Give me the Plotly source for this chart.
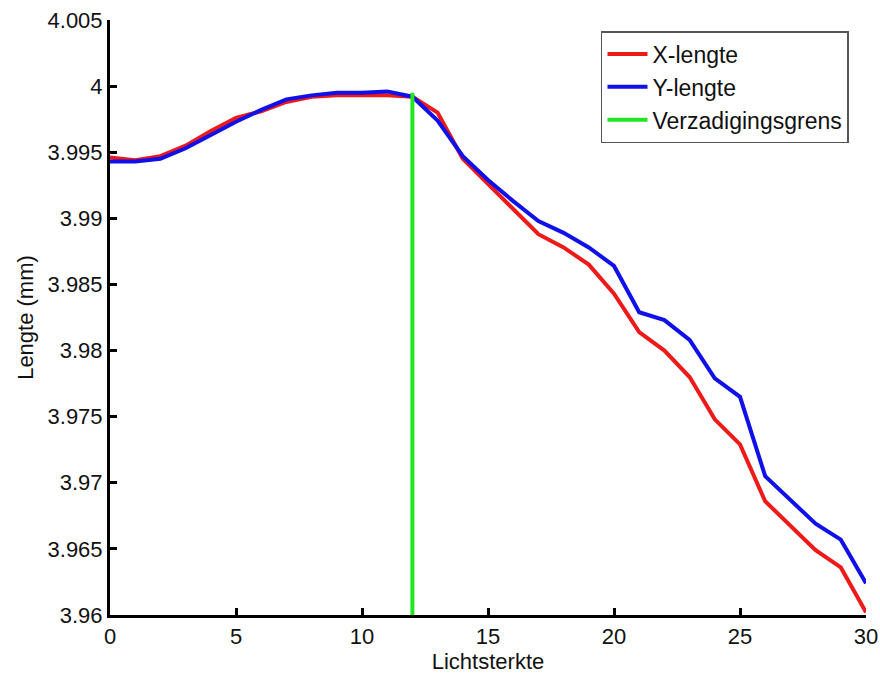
import plotly.graph_objects as go

# Light intensity steps
lichtsterkte = list(range(0, 31))

# Measured lengths (mm)
x_lengte = [3.9946, 3.9944, 3.9947, 3.9955, 3.9966, 3.9976, 3.9981, 3.9988, 3.9992, 3.9993,
            3.9993, 3.9993, 3.9992, 3.9980, 3.9945, 3.9926, 3.9906, 3.9888, 3.9878, 3.9865,
            3.9843, 3.9814, 3.9800, 3.9780, 3.9748, 3.9729, 3.9686, 3.9667, 3.9649, 3.9636,
            3.9602]
y_lengte = [3.9943, 3.9943, 3.9945, 3.9953, 3.9963, 3.9973, 3.9982, 3.9990, 3.9993, 3.9995,
            3.9995, 3.9996, 3.9992, 3.9974, 3.9947, 3.9929, 3.9913, 3.9898, 3.9889, 3.9878,
            3.9864, 3.9829, 3.9823, 3.9808, 3.9779, 3.9765, 3.9705, 3.9687, 3.9669, 3.9657,
            3.9624]

# Saturation limit marker
grens_x = [12, 12]
grens_y = [3.96, 3.9995]

x_ticks = [0, 5, 10, 15, 20, 25, 30]
y_ticks = [3.96, 3.965, 3.97, 3.975, 3.98, 3.985, 3.99, 3.995, 4.0, 4.005]
y_ticktext = ["3.96", "3.965", "3.97", "3.975", "3.98", "3.985", "3.99", "3.995", "4", "4.005"]

fig = go.Figure()
fig.add_trace(go.Scatter(x=lichtsterkte, y=x_lengte, mode="lines", name="X-lengte",
                         line=dict(color="#ee1a1a", width=4)))
fig.add_trace(go.Scatter(x=lichtsterkte, y=y_lengte, mode="lines", name="Y-lengte",
                         line=dict(color="#1010e8", width=4)))
fig.add_trace(go.Scatter(x=grens_x, y=grens_y, mode="lines", name="Verzadigingsgrens",
                         line=dict(color="#22e622", width=4)))

font = dict(family="Liberation Sans, Arial, sans-serif", size=22, color="#111111")

fig.update_layout(
    width=880, height=675,
    margin=dict(l=110, r=14, t=20, b=60),
    paper_bgcolor="white", plot_bgcolor="white",
    font=font,
    showlegend=True,
    legend=dict(x=0.9775, y=0.9815, xanchor="right", yanchor="top",
                bgcolor="white", bordercolor="#555555", borderwidth=1.5,
                font=dict(family="Liberation Sans, Arial, sans-serif", size=23, color="#111111"),
                tracegroupgap=0, itemwidth=40),
    xaxis=dict(range=[0, 30], tickmode="array", tickvals=x_ticks, automargin=False,
               showgrid=False, zeroline=False, showline=True, linecolor="black",
               linewidth=3, ticks="inside", ticklen=7, tickwidth=2.5, tickcolor="black",
               title=dict(text="Lichtsterkte", standoff=2, font=font),
               tickfont=font),
    yaxis=dict(range=[3.96, 4.005], tickmode="array", tickvals=y_ticks, ticktext=y_ticktext,
               automargin=False,
               showgrid=False, zeroline=False, showline=True, linecolor="black",
               linewidth=3, ticks="inside", ticklen=7, tickwidth=2.5, tickcolor="black",
               title=dict(text="Lengte (mm)", standoff=8, font=font),
               tickfont=font),
)

fig.write_html("out.html")
